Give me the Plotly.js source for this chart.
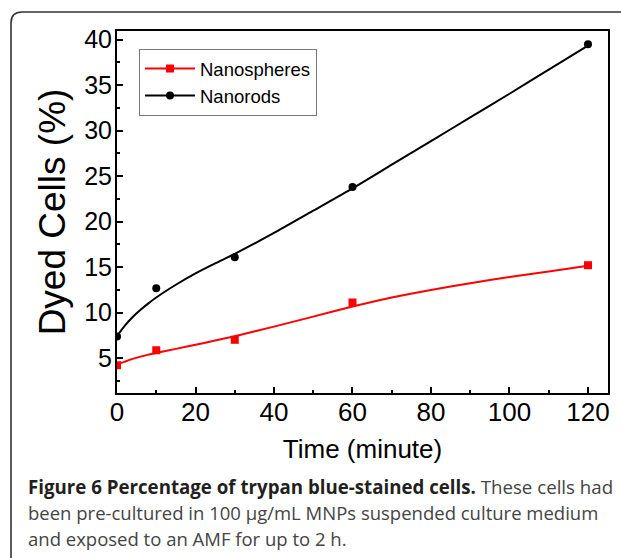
<!DOCTYPE html>
<html>
<head>
<meta charset="utf-8">
<script src="https://cdn.plot.ly/plotly-3.0.1.min.js"></script>
<style>
  html, body { margin: 0; padding: 0; background: #fff; }
  #chart { width: 621px; height: 558px; }
</style>
</head>
<body>
<div id="chart"></div>
<script>
// Measured data points
var timePoints = [0, 10, 30, 60, 120];
var spheresPct = [4.2, 5.85, 7.0, 11.1, 15.2];
var rodsPct = [7.35, 12.68, 16.08, 23.8, 39.5];

// Fitted curves
var fitTime = [0, 2, 4, 6, 8, 10, 15, 20, 25, 30, 40, 50, 60, 70, 80, 90, 100, 110, 120];
var spheresFit = [4.3, 4.6, 4.9, 5.15, 5.37, 5.55, 6.0, 6.45, 6.92, 7.4, 8.45, 9.55, 10.65, 11.65, 12.48, 13.22, 13.9, 14.52, 15.13];
var rodsFit = [7.4, 8.55, 9.5, 10.3, 11.0, 11.65, 13.05, 14.3, 15.4, 16.45, 18.75, 21.2, 23.65, 26.25, 28.85, 31.45, 34.05, 36.7, 39.35];

var seriesNames = ['Nanospheres', 'Nanorods'];
var xTitle = 'Time (minute)';
var yTitle = 'Dyed Cells (%)';
var captionBold = 'Figure 6 Percentage of trypan blue-stained cells.';
var captionLines = [
  ' These cells had',
  'been pre-cultured in 100 \u00b5g/mL MNPs suspended culture medium',
  'and exposed to an AMF for up to 2 h.'
];

var RED = '#ff0000', BLACK = '#000000';
var AX = 'Liberation Sans, Arial, sans-serif';
var CAP = 'Open Sans, Noto Sans, sans-serif';

// pixel -> paper helpers (plot area: l=117, r=608, t=31, b=393)
var L = 117, R = 608, T = 31, B = 393;
function px(x) { return (x - L) / (R - L); }
function py(y) { return (B - y) / (B - T); }

var traces = [
  { x: fitTime, y: spheresFit, mode: 'lines', line: {color: RED, width: 2, shape: 'spline', smoothing: 0.7}, showlegend: false, hoverinfo: 'skip' },
  { x: fitTime, y: rodsFit, mode: 'lines', line: {color: BLACK, width: 2, shape: 'spline', smoothing: 0.7}, showlegend: false, hoverinfo: 'skip' },
  { x: timePoints, y: spheresPct, mode: 'markers', marker: {symbol: 'square', size: 8, color: RED}, showlegend: false },
  { x: timePoints, y: rodsPct, mode: 'markers', marker: {symbol: 'circle', size: 8, color: BLACK}, showlegend: false },
  // legend entries (line with marker)
  { x: [null], y: [null], name: seriesNames[0], mode: 'lines+markers', line: {color: RED, width: 2}, marker: {symbol: 'square', size: 8, color: RED} },
  { x: [null], y: [null], name: seriesNames[1], mode: 'lines+markers', line: {color: BLACK, width: 2}, marker: {symbol: 'circle', size: 8, color: BLACK} }
];

var boxPath = 'M ' + px(11) + ',' + py(600) + ' L ' + px(11) + ',' + py(23) +
  ' Q ' + px(11) + ',' + py(12) + ' ' + px(22) + ',' + py(12) +
  ' L ' + px(660) + ',' + py(12);

var layout = {
  width: 621, height: 558,
  margin: {l: L, r: 621 - R, t: T, b: 558 - B, pad: 0},
  paper_bgcolor: '#ffffff', plot_bgcolor: '#ffffff',
  showlegend: true,
  legend: {
    x: px(139), y: py(49), xanchor: 'left', yanchor: 'top',
    bgcolor: '#ffffff', bordercolor: '#777777', borderwidth: 1,
    font: {family: AX, size: 18.5, color: '#000'},
    itemwidth: 50, tracegroupgap: 0
  },
  xaxis: {
    range: [0, 125.1], showgrid: false, zeroline: false,
    showline: true, linecolor: '#000', linewidth: 2, mirror: true,
    ticks: 'inside', ticklen: 6, tickwidth: 2, tickcolor: '#000',
    tick0: 0, dtick: 20, ticklabelstandoff: -5,
    minor: {ticks: 'inside', ticklen: 3, tickwidth: 2, tickcolor: '#000', dtick: 10, showgrid: false},
    tickfont: {family: AX, size: 26, color: '#000'},
    title: {text: xTitle, font: {family: AX, size: 26, color: '#000'}, standoff: 14}
  },
  yaxis: {
    range: [1.15, 40.95], showgrid: false, zeroline: false,
    showline: true, linecolor: '#000', linewidth: 2, mirror: true,
    ticks: 'inside', ticklen: 6, tickwidth: 2, tickcolor: '#000',
    tick0: 0, dtick: 5, ticklabelstandoff: -2,
    minor: {ticks: 'inside', ticklen: 3, tickwidth: 2, tickcolor: '#000', dtick: 2.5, showgrid: false},
    tickfont: {family: AX, size: 25, color: '#000'},
    title: {text: yTitle, font: {family: AX, size: 37, color: '#000'}, standoff: 7}
  },
  shapes: [
    {type: 'path', xref: 'paper', yref: 'paper', path: boxPath, line: {color: '#333', width: 1.6}, layer: 'above'}
  ],
  annotations: [
    {xref: 'paper', yref: 'paper', x: px(26), y: py(487), xanchor: 'left', yanchor: 'middle', showarrow: false,
     text: '<b>' + captionBold + '</b><span style="color:#444">' + captionLines[0] + '</span>',
     font: {family: CAP, size: 18.7, color: '#231f20'}},
    {xref: 'paper', yref: 'paper', x: px(26), y: py(512.5), xanchor: 'left', yanchor: 'middle', showarrow: false,
     text: captionLines[1], font: {family: CAP, size: 18.5, color: '#444'}},
    {xref: 'paper', yref: 'paper', x: px(26), y: py(538), xanchor: 'left', yanchor: 'middle', showarrow: false,
     text: captionLines[2], font: {family: CAP, size: 18.5, color: '#444'}}
  ]
};

Plotly.newPlot('chart', traces, layout, {staticPlot: true, displayModeBar: false});
</script>
</body>
</html>
